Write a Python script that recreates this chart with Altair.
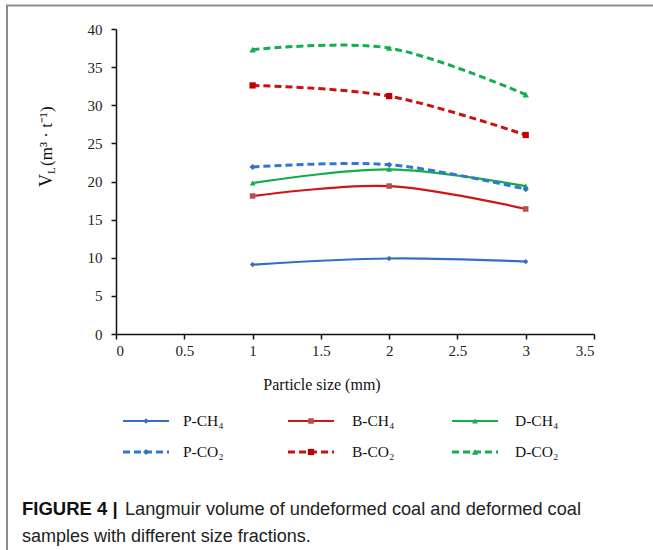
import altair as alt
import pandas as pd

# Particle size fractions (mm) and Langmuir volume V_L (m3/t) for each sample/gas
sizes = [1, 2, 3]
p_ch4 = [9.1, 9.9, 9.5]
b_ch4 = [18.1, 19.4, 16.4]
d_ch4 = [19.8, 21.6, 19.4]
p_co2 = [21.9, 22.2, 19.0]
b_co2 = [32.6, 31.2, 26.1]
d_co2 = [37.3, 37.5, 31.4]

series_names = ["P-CH₄", "B-CH₄", "D-CH₄", "P-CO₂", "B-CO₂", "D-CO₂"]
series_values = [p_ch4, b_ch4, d_ch4, p_co2, b_co2, d_co2]

x_ticks = [0, 0.5, 1, 1.5, 2, 2.5, 3, 3.5]
y_ticks = [0, 5, 10, 15, 20, 25, 30, 35, 40]

caption_bold = "FIGURE 4 |"
caption_line1 = "Langmuir volume of undeformed coal and deformed coal"
caption_line2 = "samples with different size fractions."

# Styling per series
line_colors = ["#3470C2", "#CC1818", "#12AE4A", "#2F78D0", "#CC1010", "#12B04C"]
marker_colors = ["#3470C2", "#B5504A", "#12AE4A", "#3470C2", "#C00000", "#12B04C"]
shapes = ["diamond", "square", "triangle-up", "diamond", "square", "triangle-up"]
marker_sizes = [28, 42, 42, 34, 48, 44]
dashed = [False, False, False, True, True, True]

rows = []
for name, vals in zip(series_names, series_values):
    for s, v in zip(sizes, vals):
        rows.append({"series": name, "size": s, "vl": v})
df = pd.DataFrame(rows)

# Plot-area geometry (pixels)
W, H = 478, 305
PAD_L, PAD_T = 116, 29
X_MAX, Y_MAX = 3.5, 40.0
px_per_x = W / X_MAX
px_per_y = H / Y_MAX

def xd(px):
    # pixel offset from plot-area left edge -> x data value
    return px / px_per_x

def yd(px):
    # pixel offset from plot-area top edge -> y data value
    return Y_MAX - px / px_per_y

x_scale = alt.Scale(domain=[0, X_MAX], nice=False, zero=False)
y_scale = alt.Scale(domain=[0, Y_MAX], nice=False)
x_axis = alt.Axis(values=x_ticks, title=None, labelOverlap=False, format="~g")
y_axis = alt.Axis(values=y_ticks, title=None, labelOverlap=False, format="~g")
color_scale = alt.Scale(domain=series_names, range=line_colors)
marker_scale = alt.Scale(domain=series_names, range=marker_colors)
shape_scale = alt.Scale(domain=series_names, range=shapes)
msize_scale = alt.Scale(domain=series_names, range=marker_sizes)

def X(field):
    return alt.X(field, type="quantitative", scale=x_scale, axis=x_axis)

def Y(field):
    return alt.Y(field, type="quantitative", scale=y_scale, axis=y_axis)

solid_names = [n for n, d in zip(series_names, dashed) if not d]
dash_names = [n for n, d in zip(series_names, dashed) if d]

base = alt.Chart(df)

solid_lines = base.transform_filter(
    alt.FieldOneOfPredicate(field="series", oneOf=solid_names)
).mark_line(interpolate="cardinal", strokeWidth=2.2).encode(
    x=X("size"), y=Y("vl"),
    color=alt.Color("series:N", scale=color_scale, legend=None),
)

dash_lines = base.transform_filter(
    alt.FieldOneOfPredicate(field="series", oneOf=dash_names)
).mark_line(interpolate="cardinal", strokeWidth=3, strokeDash=[7, 4]).encode(
    x=X("size"), y=Y("vl"),
    color=alt.Color("series:N", scale=color_scale, legend=None),
)

points = base.mark_point(filled=True, opacity=1).encode(
    x=X("size"), y=Y("vl"),
    fill=alt.Fill("series:N", scale=marker_scale, legend=None),
    shape=alt.Shape("series:N", scale=shape_scale, legend=None),
    size=alt.Size("series:N", scale=msize_scale, legend=None),
)

# Legend block below the plot: 3 columns (P, B, D) x 2 rows (CH4, CO2)
col_px = [7, 172, 336]
row_px = [392, 423]
line_len = 46
label_gap = [14, 18, 17]
leg_rows = []
for i, name in enumerate(series_names):
    c, r = i % 3, i // 3
    x0 = col_px[c]
    leg_rows.append({
        "series": name,
        "x0": xd(x0), "x1": xd(x0 + line_len), "xm": xd(x0 + line_len / 2),
        "xl": xd(x0 + line_len + label_gap[c]), "y": yd(row_px[r]),
        "dash": "d" if dashed[i] else "s",
    })
leg = pd.DataFrame(leg_rows)
leg_base = alt.Chart(leg)

leg_solid = leg_base.transform_filter(alt.datum.dash == "s").mark_rule(strokeWidth=2.2).encode(
    x=X("x0"), x2="x1:Q", y=Y("y"),
    color=alt.Color("series:N", scale=color_scale, legend=None),
)
leg_dash = leg_base.transform_filter(alt.datum.dash == "d").mark_rule(strokeWidth=3, strokeDash=[7, 4]).encode(
    x=X("x0"), x2="x1:Q", y=Y("y"),
    color=alt.Color("series:N", scale=color_scale, legend=None),
)
leg_pts = leg_base.mark_point(filled=True, opacity=1).encode(
    x=X("xm"), y=Y("y"),
    fill=alt.Fill("series:N", scale=marker_scale, legend=None),
    shape=alt.Shape("series:N", scale=shape_scale, legend=None),
    size=alt.Size("series:N", scale=msize_scale, legend=None),
)
leg_text = leg_base.mark_text(align="left", baseline="middle", font="Liberation Serif",
                              fontSize=15.5, color="#111111").encode(
    x=X("xl"), y=Y("y"),
    text="series:N",
)

one = alt.Data(values=[{}])

def label(text, x, y, **kw):
    return alt.Chart(one).mark_text(**kw).encode(
        x=alt.value(x - PAD_L), y=alt.value(y - PAD_T), text=alt.value(text)
    )

# Axis titles
x_title = label("Particle size (mm)", 322, 385, font="Liberation Serif", fontSize=16,
                align="center", baseline="middle", color="#111111")
y_t1 = label("V", 52, 187, font="Liberation Serif", fontSize=18, angle=270,
             align="left", baseline="alphabetic", color="#111111")
y_t2 = label("L", 55, 174, font="Liberation Serif", fontSize=11, angle=270,
             align="left", baseline="alphabetic", color="#111111")
y_t3 = label("(m³ · t⁻¹)", 52, 166, font="Liberation Serif", fontSize=17, angle=270,
             align="left", baseline="alphabetic", color="#111111")

# Caption
cap_b = label(caption_bold, 22, 515, font="Liberation Sans", fontSize=18.5, fontWeight="bold",
              align="left", baseline="alphabetic", color="#111111")
cap_1 = label(caption_line1, 125, 515, font="Liberation Sans", fontSize=18.2,
              align="left", baseline="alphabetic", color="#222222")
cap_2 = label(caption_line2, 22, 542, font="Liberation Sans", fontSize=18,
              align="left", baseline="alphabetic", color="#222222")

# Figure frame (top and left edges)
frame_top = alt.Chart(one).mark_rule(color="#8c8c8c", strokeWidth=2).encode(
    x=alt.value(6 - PAD_L), x2=alt.value(653 - PAD_L), y=alt.value(5.5 - PAD_T)
)
frame_left = alt.Chart(one).mark_rule(color="#8c8c8c", strokeWidth=2).encode(
    x=alt.value(7 - PAD_L), y=alt.value(5 - PAD_T), y2=alt.value(550 - PAD_T)
)

chart = alt.layer(
    frame_top, frame_left,
    solid_lines, dash_lines, points,
    leg_solid, leg_dash, leg_pts, leg_text,
    x_title, y_t1, y_t2, y_t3,
    cap_b, cap_1, cap_2,
).properties(
    width=W, height=H,
    padding={"left": PAD_L, "top": PAD_T, "right": 653 - PAD_L - W, "bottom": 550 - PAD_T - H},
    autosize=alt.AutoSizeParams(type="none"),
    background="white",
).configure_view(
    stroke=None
).configure_axis(
    grid=False,
    domainColor="#111111", domainWidth=1.5,
    tickColor="#111111", tickWidth=1.5, tickSize=5,
    labelFont="Liberation Serif", labelFontSize=15, labelColor="#222222",
    labelPadding=4,
).configure_axisY(
    labelPadding=9,
)

chart.save("out.html", embed_options={"renderer": "svg", "actions": False})
